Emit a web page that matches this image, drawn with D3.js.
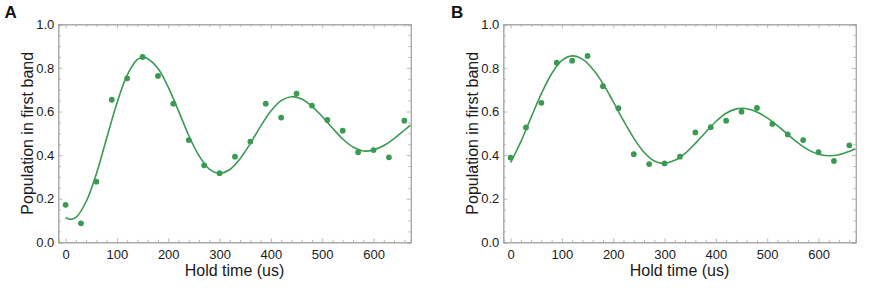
<!DOCTYPE html>
<html><head><meta charset="utf-8">
<script src="https://cdn.jsdelivr.net/npm/d3@7"></script>
<style>
body{margin:0;background:#fff;}
svg{display:block;font-family:"Liberation Sans",Arial,Helvetica,sans-serif;}
</style></head>
<body><svg id="chart" width="872" height="288"></svg>
<script>
// ---- data ----
const holdTimes = [0,30,60,90,120,150,180,210,240,270,300,330,360,390,420,450,480,510,540,570,600,630,660];
const popA = [0.172,0.087,0.278,0.654,0.752,0.850,0.763,0.636,0.469,0.353,0.317,0.393,0.462,0.636,0.572,0.682,0.627,0.561,0.512,0.413,0.423,0.390,0.558];
const popB = [0.388,0.527,0.640,0.824,0.833,0.855,0.716,0.615,0.404,0.359,0.362,0.393,0.504,0.528,0.558,0.599,0.616,0.543,0.495,0.469,0.414,0.373,0.445];
// fitted curves
const fitTA = [0,10,20,40,60,80,100,120,140,150,160,180,200,220,240,260,280,300,320,340,360,380,400,420,440,460,480,500,520,540,560,580,600,620,640,660,672];
const fitA  = [0.114,0.105,0.114,0.186,0.315,0.477,0.638,0.767,0.839,0.848,0.842,0.797,0.712,0.603,0.490,0.397,0.336,0.317,0.334,0.383,0.454,0.532,0.602,0.650,0.668,0.657,0.624,0.577,0.524,0.474,0.437,0.419,0.424,0.444,0.476,0.514,0.537];
const fitTB = [0,20,40,60,80,100,120,140,160,180,200,220,240,260,280,297,320,340,360,380,400,420,440,450,460,480,500,520,540,560,580,600,619,640,660,672];
const fitB  = [0.365,0.462,0.573,0.682,0.773,0.834,0.855,0.840,0.795,0.728,0.645,0.558,0.478,0.413,0.373,0.362,0.376,0.408,0.454,0.505,0.554,0.592,0.612,0.615,0.613,0.598,0.571,0.535,0.495,0.456,0.424,0.404,0.397,0.402,0.417,0.429];
const xTicks = [0,100,200,300,400,500,600];
const yTicks = [0.0,0.2,0.4,0.6,0.8,1.0];
const panelLabels = ["A","B"];
const xTitle = "Hold time (us)";
const yTitle = "Population in first band";

const green = "#3b9a51";
const frame = "#a6a6a6";
const svg = d3.select("#chart");

const panels = [
  {label:panelLabels[0], left:58.3, labelX:4.5, pts:popA, ft:fitTA, fv:fitA},
  {label:panelLabels[1], left:503.3, labelX:451, pts:popB, ft:fitTB, fv:fitB}
];
const W = 352.5, plotTop = 24.3, H = 218;

panels.forEach(p => {
  const g = svg.append("g").attr("transform", `translate(${p.left},${plotTop})`);
  const x = d3.scaleLinear().domain([-14.2, 672.6]).range([0, W]);
  const y = d3.scaleLinear().domain([0, 1]).range([H, 0]);

  const minorX = d3.range(0, 680, 20).filter(v => v % 100 !== 0);
  const minorY = d3.range(0, 21).map(i => i / 20).filter((v, i) => i % 4 !== 0);

  g.append("g").attr("transform", `translate(0,${H})`)
    .call(d3.axisBottom(x).tickValues(xTicks).tickSize(-4).tickPadding(7).tickFormat(d3.format("d")));
  g.append("g").attr("transform", `translate(0,${H})`)
    .call(d3.axisBottom(x).tickValues(minorX).tickSize(-2.5).tickFormat(""));
  g.append("g").call(d3.axisTop(x).tickValues(xTicks).tickSize(-4).tickFormat(""));
  g.append("g").call(d3.axisTop(x).tickValues(minorX).tickSize(-2.5).tickFormat(""));
  g.append("g").call(d3.axisLeft(y).tickValues(yTicks).tickSize(-4).tickPadding(4).tickFormat(d3.format(".1f")));
  g.append("g").call(d3.axisLeft(y).tickValues(minorY).tickSize(-2.5).tickFormat(""));
  g.append("g").attr("transform", `translate(${W},0)`).call(d3.axisRight(y).tickValues(yTicks).tickSize(-4).tickFormat(""));
  g.append("g").attr("transform", `translate(${W},0)`).call(d3.axisRight(y).tickValues(minorY).tickSize(-2.5).tickFormat(""));

  g.selectAll(".domain").attr("stroke", frame).attr("stroke-width", 1);
  g.selectAll(".tick line").attr("stroke", frame).attr("stroke-width", 0.8);
  g.selectAll(".tick text").attr("fill", "#1a1a1a").attr("font-size", 13)
    .attr("font-family", '"Liberation Sans",Arial,sans-serif');

  const cid = "clip" + p.label;
  g.append("clipPath").attr("id", cid).append("rect").attr("width", W).attr("height", H);

  const line = d3.line().x((d,i) => x(p.ft[i])).y((d,i) => y(p.fv[i])).curve(d3.curveCatmullRom.alpha(0.5));
  g.append("path").datum(p.fv).attr("d", line).attr("fill", "none")
    .attr("stroke", green).attr("stroke-width", 1.6).attr("clip-path", `url(#${cid})`);

  g.selectAll("circle.pt").data(p.pts).join("circle").attr("class","pt")
    .attr("cx", (d,i) => x(holdTimes[i])).attr("cy", d => y(d)).attr("r", 2.9).attr("fill", green);

  g.append("text").attr("x", W/2).attr("y", 276.5 - plotTop)
    .attr("text-anchor", "middle").attr("font-size", 16).attr("fill", "#1a1a1a").text(xTitle);
  g.append("text").attr("transform", `translate(${33 - 58.3},${H/2}) rotate(-90)`)
    .attr("text-anchor", "middle").attr("font-size", 16).attr("fill", "#1a1a1a").text(yTitle);
  g.append("text").attr("x", p.labelX - p.left).attr("y", 17.5 - plotTop)
    .attr("font-size", 17).attr("font-weight", "bold").attr("fill", "#111").text(p.label);
});
</script></body></html>
